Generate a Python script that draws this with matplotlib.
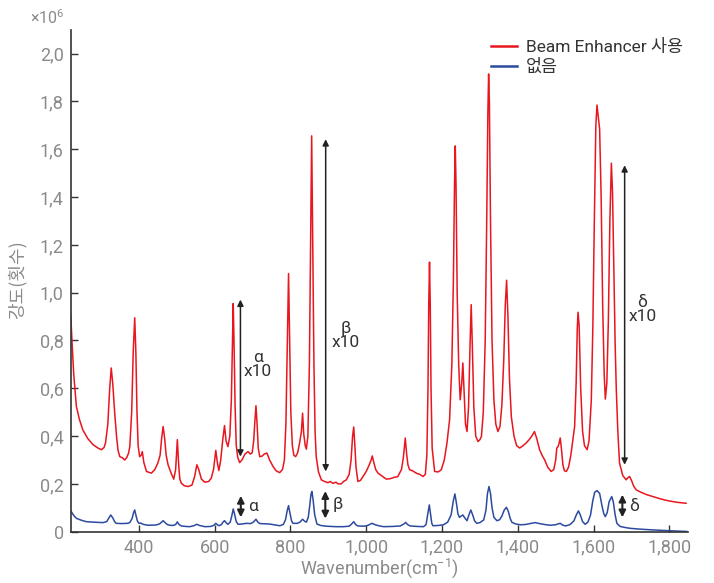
import numpy as np
import matplotlib
matplotlib.use('Agg')
import matplotlib.pyplot as plt
from matplotlib.ticker import FuncFormatter, MultipleLocator
from matplotlib.lines import Line2D

plt.rcParams['font.family'] = ['Roboto', 'Noto Sans CJK KR', 'DejaVu Sans']
plt.rcParams['mathtext.fontset'] = 'custom'
plt.rcParams['mathtext.rm'] = 'Roboto'
plt.rcParams['mathtext.it'] = 'Roboto'

# Datos (intensidad en unidades de 1e6)
red_x = [220, 224, 228, 235, 243, 252, 265, 279, 292, 301, 308, 312, 318, 323, 327, 331, 336, 341, 345,
         349.6, 356, 362.5, 368, 373, 376, 381, 385, 389, 392, 395, 398, 402, 406, 409, 413, 420,
         433, 442, 450, 456, 460, 464, 468, 472, 477, 485, 492, 497, 501.5, 505, 508, 512, 520, 530,
         540, 547, 553, 558, 565, 574, 584, 591, 597, 603, 607, 611, 616, 621, 626, 630, 635, 640,
         644, 647, 649, 651, 654, 657, 661, 666, 672, 680, 688, 694, 699, 703, 706, 709, 712, 715,
         719, 725, 731, 738, 745, 754, 762, 771.5, 779, 784, 788, 792, 795, 798, 801, 805, 809,
         813.7, 819, 824, 829, 832, 835, 839, 842, 846, 850, 853, 856, 859, 862, 865, 868, 874,
         881.5, 890, 899, 905, 912, 920, 926, 934, 940, 947.5, 955, 960, 964, 967, 970, 973, 978,
         985, 993, 1000, 1008, 1013, 1016, 1020, 1025, 1031, 1040, 1053, 1064, 1075, 1083, 1088,
         1093, 1098, 1103, 1107, 1110, 1114.5, 1122, 1132, 1141, 1150, 1156, 1160, 1163, 1165,
         1167, 1169, 1171, 1174, 1180.5, 1190, 1198, 1206, 1213, 1220, 1226, 1230, 1233, 1235,
         1237, 1240, 1244, 1248, 1252, 1255, 1258, 1262, 1266, 1270, 1274, 1277, 1280, 1284, 1289,
         1295, 1300, 1304, 1309, 1314, 1318, 1321, 1323, 1325, 1328, 1332, 1337, 1342, 1347.5,
         1353, 1358, 1363, 1367, 1370.5, 1374, 1378, 1383, 1390, 1397, 1405, 1414, 1422, 1430,
         1437, 1444, 1450, 1457.5, 1464, 1471, 1479, 1488, 1495, 1500, 1503, 1506, 1509, 1512,
         1515, 1519, 1523, 1528, 1534, 1540, 1545, 1550, 1554, 1557, 1559, 1562, 1566, 1571, 1576,
         1583, 1588, 1594, 1598, 1602, 1606, 1609, 1612, 1616, 1620, 1624, 1628, 1631, 1635, 1639,
         1643, 1647, 1650, 1654, 1657, 1660, 1664, 1668.5, 1677, 1686, 1690, 1695, 1700, 1706,
         1712.6, 1725, 1740, 1756.5, 1775, 1795, 1820, 1844]
red_y = [0.91, 0.78, 0.66, 0.524, 0.47, 0.426, 0.39, 0.364, 0.35, 0.343, 0.352, 0.372, 0.45, 0.6, 0.685,
         0.62, 0.5, 0.40, 0.34, 0.314, 0.31, 0.30, 0.31, 0.33, 0.356, 0.5, 0.75, 0.895, 0.75, 0.5,
         0.36, 0.314, 0.32, 0.335, 0.29, 0.252, 0.245, 0.26, 0.287, 0.32, 0.39, 0.44, 0.39, 0.32,
         0.28, 0.245, 0.22, 0.26, 0.385, 0.28, 0.22, 0.203, 0.192, 0.189, 0.195, 0.23, 0.28, 0.26,
         0.22, 0.207, 0.21, 0.224, 0.26, 0.34, 0.29, 0.256, 0.3, 0.38, 0.444, 0.38, 0.356, 0.40,
         0.55, 0.80, 0.955, 0.80, 0.52, 0.36, 0.31, 0.289, 0.30, 0.325, 0.335, 0.325, 0.33, 0.38,
         0.46, 0.527, 0.45, 0.35, 0.314, 0.316, 0.325, 0.329, 0.30, 0.273, 0.255, 0.247, 0.26, 0.3,
         0.45, 0.8, 1.08, 0.8, 0.5, 0.36, 0.32, 0.314, 0.33, 0.37, 0.42, 0.496, 0.41, 0.36, 0.345,
         0.4, 0.7, 1.2, 1.656, 1.2, 0.7, 0.42, 0.314, 0.25, 0.217, 0.21, 0.205, 0.21, 0.202, 0.207,
         0.20, 0.20, 0.21, 0.217, 0.24, 0.3, 0.4, 0.438, 0.36, 0.27, 0.21, 0.215, 0.235, 0.252,
         0.28, 0.30, 0.317, 0.29, 0.26, 0.245, 0.235, 0.22, 0.222, 0.228, 0.23, 0.245, 0.26, 0.31,
         0.392, 0.32, 0.28, 0.259, 0.255, 0.245, 0.24, 0.231, 0.24, 0.32, 0.6, 0.95, 1.128, 0.95,
         0.6, 0.35, 0.252, 0.25, 0.259, 0.3, 0.37, 0.468, 0.7, 1.05, 1.45, 1.614, 1.45, 1.0, 0.7,
         0.552, 0.62, 0.706, 0.6, 0.45, 0.419, 0.52, 0.78, 0.95, 0.78, 0.52, 0.40, 0.377, 0.385,
         0.398, 0.5, 0.8, 1.3, 1.75, 1.915, 1.80, 1.3, 0.8, 0.55, 0.45, 0.419, 0.44, 0.53, 0.72,
         0.95, 1.052, 0.90, 0.64, 0.48, 0.40, 0.36, 0.35, 0.36, 0.371, 0.385, 0.40, 0.419, 0.39,
         0.343, 0.32, 0.30, 0.27, 0.252, 0.26, 0.30, 0.35, 0.355, 0.37, 0.392, 0.35, 0.28, 0.255,
         0.252, 0.27, 0.32, 0.38, 0.44, 0.62, 0.85, 0.918, 0.86, 0.6, 0.42, 0.36, 0.343, 0.38,
         0.55, 0.85, 1.3, 1.7, 1.785, 1.74, 1.684, 1.4, 0.95, 0.66, 0.555, 0.62, 0.88, 1.3, 1.542,
         1.42, 1.05, 0.78, 0.594, 0.42, 0.287, 0.235, 0.217, 0.225, 0.231, 0.215, 0.19, 0.175,
         0.165, 0.155, 0.147, 0.138, 0.13, 0.123, 0.119]

blue_x = [220, 228, 235, 248, 261, 280, 305, 315, 320, 325.6, 331, 336, 340, 355, 370, 376, 382,
          386, 389, 392, 396, 400, 405, 411, 420, 428.5, 445, 455, 460, 464, 469, 475, 481, 490,
          497, 501.5, 506, 512, 524, 534, 545, 553, 560, 574, 590, 598, 603, 607, 611, 618, 622,
          626, 631, 635, 641, 645, 649, 653, 657, 661.5, 672, 683.6, 695, 702, 709, 714, 719, 732,
          745, 760, 771.5, 781, 787, 791, 795, 799, 803, 806.6, 818, 825, 832, 838, 842, 847, 851,
          854, 856.7, 860, 864, 870, 880, 894.7, 920, 940, 955, 962, 967, 972, 978, 995, 1005,
          1015, 1024, 1035, 1046, 1070, 1090, 1099, 1104, 1109, 1116, 1135, 1151, 1158, 1162,
          1166.5, 1170, 1173, 1176, 1190, 1204, 1215, 1224, 1230, 1234, 1238, 1242, 1246, 1250,
          1255, 1260, 1266, 1271, 1276, 1281, 1286, 1292, 1300, 1310, 1316, 1320, 1324, 1328,
          1332, 1337, 1345, 1352, 1358, 1364, 1370, 1375, 1380, 1384.6, 1395, 1406.6, 1420, 1435,
          1446, 1460, 1475, 1486, 1500, 1507, 1512, 1518, 1526, 1538, 1548, 1555, 1560, 1565,
          1571, 1578, 1585, 1592, 1598, 1603, 1609, 1616, 1622, 1627, 1631, 1636, 1641, 1648,
          1652, 1657, 1661.5, 1670, 1685, 1697, 1720, 1750, 1800, 1846]
blue_y = [0.088, 0.068, 0.056, 0.048, 0.042, 0.04, 0.038, 0.042, 0.055, 0.07, 0.058, 0.042, 0.035,
          0.034, 0.035, 0.038, 0.055, 0.08, 0.091, 0.07, 0.045, 0.035, 0.036, 0.031, 0.028, 0.027,
          0.028, 0.033, 0.04, 0.046, 0.038, 0.03, 0.027, 0.026, 0.03, 0.041, 0.03, 0.024, 0.022,
          0.021, 0.025, 0.031, 0.026, 0.021, 0.022, 0.027, 0.035, 0.029, 0.025, 0.03, 0.04, 0.046,
          0.036, 0.031, 0.04, 0.065, 0.095, 0.07, 0.042, 0.031, 0.032, 0.035, 0.034, 0.04, 0.052,
          0.04, 0.034, 0.033, 0.032, 0.028, 0.025, 0.03, 0.05, 0.085, 0.109, 0.075, 0.045, 0.035,
          0.035, 0.04, 0.052, 0.043, 0.04, 0.06, 0.11, 0.155, 0.168, 0.13, 0.07, 0.032, 0.026,
          0.023, 0.021, 0.021, 0.023, 0.033, 0.042, 0.03, 0.024, 0.023, 0.027, 0.035, 0.029,
          0.024, 0.021, 0.022, 0.024, 0.032, 0.039, 0.03, 0.024, 0.022, 0.021, 0.03, 0.07, 0.112,
          0.07, 0.035, 0.025, 0.026, 0.029, 0.04, 0.07, 0.13, 0.158, 0.12, 0.075, 0.06, 0.065,
          0.07, 0.058, 0.046, 0.07, 0.091, 0.07, 0.045, 0.035, 0.038, 0.049, 0.09, 0.16, 0.189,
          0.16, 0.1, 0.06, 0.046, 0.05, 0.065, 0.09, 0.102, 0.085, 0.055, 0.039, 0.032, 0.029,
          0.03, 0.035, 0.038, 0.033, 0.029, 0.027, 0.029, 0.033, 0.035, 0.028, 0.024, 0.03, 0.045,
          0.072, 0.087, 0.07, 0.042, 0.031, 0.04, 0.07, 0.13, 0.165, 0.172, 0.16, 0.11, 0.075,
          0.063, 0.08, 0.125, 0.147, 0.125, 0.07, 0.035, 0.022, 0.017, 0.014, 0.011, 0.008, 0.004,
          0.001]

series_labels = ['Beam Enhancer 사용', '없음']
x_ticks = [400, 600, 800, 1000, 1200, 1400, 1600, 1800]

# Flechas: (x, y inferior, y superior, etiqueta)
big_arrows = [(668, 0.314, 0.971, 'α'), (893, 0.252, 1.642, 'β'), (1682, 0.28, 1.533, 'δ')]
big_text_pos = [(714, 0.70), (947, 0.822), (1729, 0.93)]
small_arrows = [(669, 0.06, 0.15, 'α'), (892, 0.055, 0.17, 'β'), (1676, 0.06, 0.155, 'δ')]

gray = '#8a8a8a'
dark = '#333333'

fig = plt.figure(figsize=(7.14, 5.83), dpi=100)
ax = fig.add_axes([0.099, 0.088, 0.865, 0.861])

ax.plot(red_x, np.array(red_y) * 1e6, color='#e8161e', lw=1.1)
ax.plot(blue_x, np.array(blue_y) * 1e6, color='#2c4ba0', lw=1.1)

ax.set_xlim(220, 1850)
ax.set_ylim(0, 2.1e6)

for s in ['top', 'right']:
    ax.spines[s].set_visible(False)
for s in ['left', 'bottom']:
    ax.spines[s].set_color(dark)
    ax.spines[s].set_linewidth(1.2)

ax.set_xticks(x_ticks)
ax.xaxis.set_major_formatter(FuncFormatter(lambda v, p: f'{int(v):,}'))
ax.yaxis.set_major_locator(MultipleLocator(0.2e6))
ax.yaxis.set_major_formatter(
    FuncFormatter(lambda v, p: '0' if abs(v) < 1 else f'{v / 1e6:.1f}'.replace('.', ',')))
ax.tick_params(direction='in', length=5, width=1, color=dark, labelcolor=gray, labelsize=13, pad=5)

fig.text(0.531, 0.025, 'Wavenumber(cm$^{-1}$)', ha='center', va='center', color=gray, fontsize=13)
fig.text(0.024, 0.52, '강도(횟수)', rotation=90, ha='center', va='center', color=gray,
         fontsize=13, family=['Noto Sans CJK KR', 'DejaVu Sans'])
fig.text(0.042, 0.97, '×10$^6$', ha='left', va='center', color=gray, fontsize=11.5)

# Flechas grandes y pequeñas
arrow_kw = dict(arrowstyle='<|-|>', color='#222222', lw=1.1, mutation_scale=9, shrinkA=0, shrinkB=0)
for (xa, y0, y1, lab), (tx, ty) in zip(big_arrows, big_text_pos):
    ax.annotate('', xy=(xa, y1 * 1e6), xytext=(xa, y0 * 1e6), arrowprops=arrow_kw)
    ax.text(tx, ty * 1e6, lab + '\nx10', ha='center', va='center', color=dark, fontsize=12.5,
            linespacing=0.95)
small_kw = dict(arrowstyle='<|-|>', color='#222222', lw=1.5, mutation_scale=10, shrinkA=0, shrinkB=0)
for xa, y0, y1, lab in small_arrows:
    ax.annotate('', xy=(xa, y1 * 1e6), xytext=(xa, y0 * 1e6), arrowprops=small_kw)
    ax.text(xa + 18, (y0 + y1) / 2 * 1e6, lab, ha='left', va='center', color=dark, fontsize=12.5)

handles = [Line2D([], [], color='#e8161e', lw=1.8), Line2D([], [], color='#2c4ba0', lw=1.8)]
ax.legend(handles, series_labels, loc='upper left', bbox_to_anchor=(0.655, 1.012), frameon=False,
          fontsize=12.5, handlelength=1.5, handletextpad=0.5, labelspacing=0.2, labelcolor=dark)

fig.savefig('out.png', dpi=100)
